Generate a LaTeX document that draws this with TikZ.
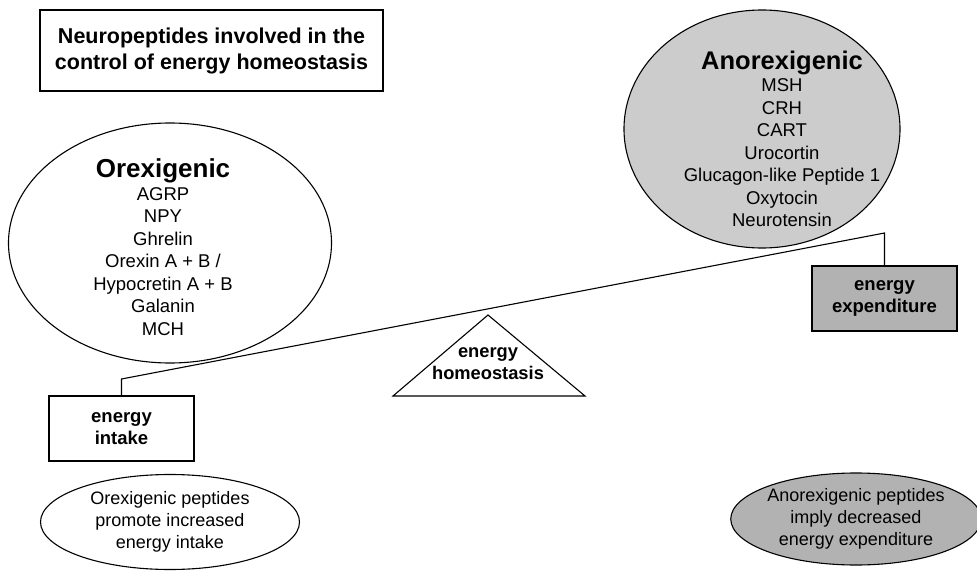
\documentclass[tikz,border=0pt]{standalone}
\usepackage{fontspec}
\setmainfont{Liberation Sans}
\usetikzlibrary{shapes.geometric}
\definecolor{lightstip}{gray}{0.80}
\definecolor{darkstip}{gray}{0.70}
\tikzset{box/.style={draw=black, line width=1.1pt, minimum width=145pt, minimum height=65pt, inner sep=0pt, align=center, font=\fontsize{18.5}{22}\selectfont\bfseries},
%ellipses get their size from the call
oval/.style={ellipse, draw=black, line width=1.1pt, inner sep=0pt, align=center},
list/.style={align=center, font=\fontsize{18.5}{22.5}\selectfont}}

\begin{document}
\begin{tikzpicture}[x=1pt, y=-1pt]
\useasboundingbox (0,0) rectangle (977,572);
% title
\node[box, minimum width=343pt, minimum height=81pt, font=\fontsize{21.5}{26}\selectfont\bfseries] (title) at (211.5,50.5) {Neuropeptides involved in the\\control of energy homeostasis};

% peptide groups
\node[oval, minimum width=323pt, minimum height=240pt] (orexEll) at (170,243) {};
\node[list] (orexList) at (163,247) {{\fontsize{26}{30}\selectfont\bfseries Orexigenic}\\AGRP\\NPY\\Ghrelin\\Orexin A + B /\\Hypocretin A + B\\Galanin\\MCH};
\node[oval, fill=lightstip, minimum width=276pt, minimum height=238pt] (anoEll) at (762,129) {};
\node[list] (anoList) at (782,139) {{\fontsize{25.5}{30}\selectfont\bfseries Anorexigenic}\\MSH\\CRH\\CART\\Urocortin\\Glucagon-like Peptide 1\\Oxytocin\\Neurotensin};

% balance
\node[box] (intake) at (121.5,428.5) {energy\\intake};
\node[box, fill=darkstip] (expend) at (884.5,298.5) {energy\\expenditure};
\coordinate (leverL) at (122,379);
\coordinate (leverR) at (887,233);
\draw[line width=1.1pt] (intake.north) -- (intake.north |- leverL) -- (expend.north |- leverR) -- (expend.north);
\draw[line width=1.1pt] (488,315) -- (585,396) -- (393,396) -- cycle;
\node[align=center, font=\fontsize{18.3}{22}\selectfont\bfseries] (homeo) at (488,364) {energy\\homeostasis};

%notes
\node[oval, list, minimum width=259pt, minimum height=95pt, font=\fontsize{18}{22}\selectfont] (orexNote) at (170,522) {Orexigenic peptides\\promote increased\\energy intake};
\node[oval, list, fill=darkstip, minimum width=250pt, minimum height=92pt, font=\fontsize{18}{22}\selectfont] (anoNote) at (856,519) {Anorexigenic peptides\\imply decreased\\energy expenditure};
\end{tikzpicture}
\end{document}
